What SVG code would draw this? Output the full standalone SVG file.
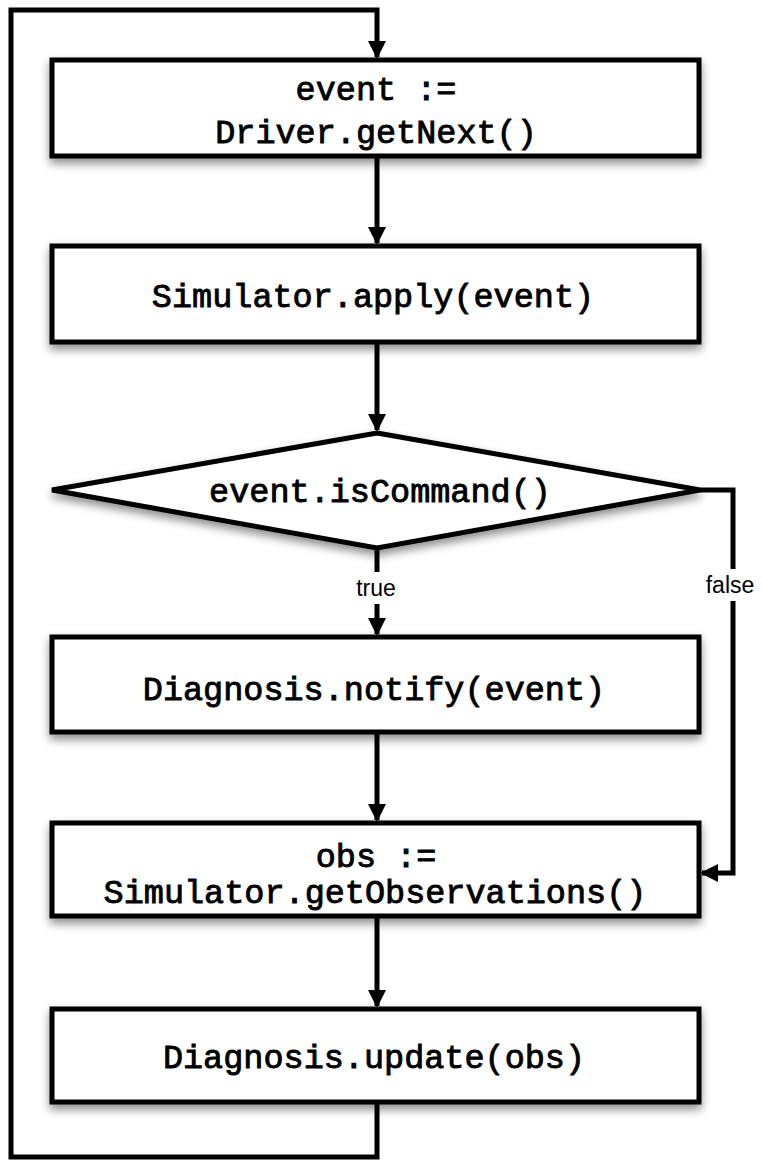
<svg xmlns="http://www.w3.org/2000/svg" width="762" height="1162" viewBox="0 0 762 1162">
  <style>
    .shape { fill: #ffffff; stroke: #000000; stroke-width: 5; stroke-linejoin: miter; filter: url(#shadow); }
    .code { font-family: "Liberation Mono", "Courier New", monospace; font-size: 33.5px; font-weight: normal; fill: #000000; stroke: #000000; stroke-width: 0.9px; text-anchor: middle; }
    .edge { fill: none; stroke: #000000; stroke-width: 5; stroke-linejoin: miter; }
    .label { font-family: "Liberation Sans", Arial, sans-serif; font-size: 23px; fill: #000000; text-anchor: middle; }
  </style>
  <defs>
    <filter id="shadow" x="-10%" y="-20%" width="120%" height="150%">
      <feDropShadow dx="0" dy="5" stdDeviation="5" flood-color="#000000" flood-opacity="0.45"/>
    </filter>
    <marker id="arrow" viewBox="0 0 18 22" refX="16" refY="11" markerWidth="18" markerHeight="22" markerUnits="userSpaceOnUse" orient="auto">
      <path d="M0,2 L18,11 L0,20 Z" fill="#000000"/>
    </marker>
  </defs>

  <rect width="762" height="1162" fill="#ffffff"/>

  <!-- connectors -->
  <g id="connectors">
    <path class="edge" d="M377,1102 L377,1157 L11,1157 L11,10 L377,10 L377,57" marker-end="url(#arrow)"/>
    <path class="edge" d="M377,156 L377,243" marker-end="url(#arrow)"/>
    <path class="edge" d="M377,342 L377,430" marker-end="url(#arrow)"/>
    <path class="edge" d="M377,548 L377,634" marker-end="url(#arrow)"/>
    <path class="edge" d="M700,490 L733,490 L733,873 L702,873" marker-end="url(#arrow)"/>
    <path class="edge" d="M377,732 L377,820" marker-end="url(#arrow)"/>
    <path class="edge" d="M377,916 L377,1006" marker-end="url(#arrow)"/>
    <rect x="345" y="572" width="64" height="32" fill="#ffffff"/>
    <text class="label" x="376" y="596">true</text>
    <rect x="698" y="569" width="64" height="32" fill="#ffffff"/>
    <text class="label" x="730" y="593">false</text>
  </g>

  <g id="node-get-next">
    <rect class="shape" x="52" y="60" width="647" height="96"/>
    <text class="code" x="376" y="100">event :=</text>
    <text class="code" x="376" y="143">Driver.getNext()</text>
  </g>

  <g id="node-apply">
    <rect class="shape" x="52" y="246" width="647" height="96"/>
    <text class="code" x="373" y="307">Simulator.apply(event)</text>
  </g>

  <g id="node-is-command">
    <polygon class="shape" points="377,433 700,490 377,548 52,490"/>
    <text class="code" x="380" y="502">event.isCommand()</text>
  </g>

  <g id="node-notify">
    <rect class="shape" x="52" y="637" width="647" height="95"/>
    <text class="code" x="374" y="700">Diagnosis.notify(event)</text>
  </g>

  <g id="node-observations">
    <rect class="shape" x="52" y="823" width="647" height="93"/>
    <text class="code" x="376" y="867">obs :=</text>
    <text class="code" x="375" y="903">Simulator.getObservations()</text>
  </g>

  <g id="node-update">
    <rect class="shape" x="52" y="1009" width="647" height="93"/>
    <text class="code" x="374" y="1068">Diagnosis.update(obs)</text>
  </g>
</svg>
